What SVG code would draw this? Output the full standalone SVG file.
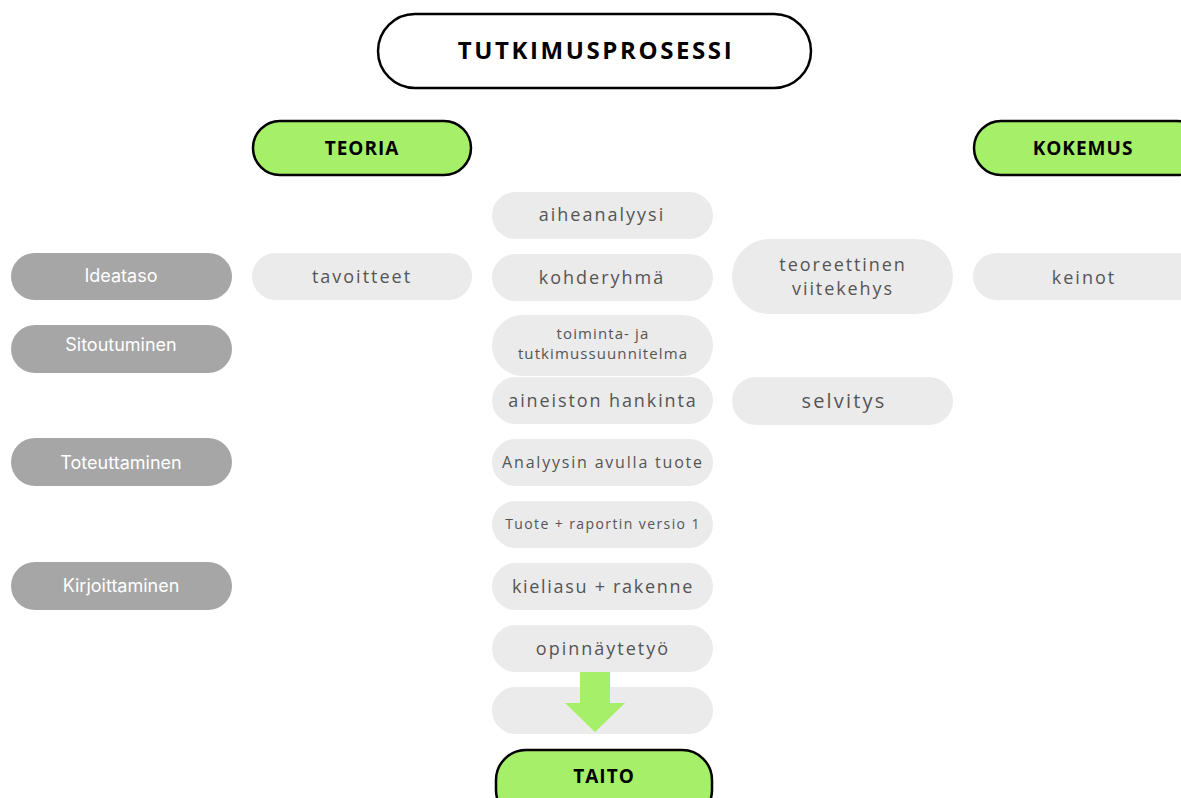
<svg xmlns="http://www.w3.org/2000/svg" width="1181" height="798" viewBox="0 0 1181 798">
<style>
.light{fill:#ebebeb}
.dark{fill:#a6a6a6}
.green{fill:#a6ef69;stroke:#000;stroke-width:2.5}
.lt{font-family:"Open Sans","DejaVu Sans",sans-serif;fill:#555;text-anchor:middle;letter-spacing:2px;font-size:18px}
.dt{font-family:Inter,"Liberation Sans",sans-serif;fill:#fff;font-size:18px;text-anchor:middle}
.gt{font-family:"Open Sans","DejaVu Sans",sans-serif;font-weight:bold;fill:#000;font-size:19px;text-anchor:middle;letter-spacing:1px}
</style>
<rect width="1181" height="798" fill="#fff"/>
<g id="title">
<rect x="378" y="14" width="433" height="74" rx="37" fill="#fff" stroke="#000" stroke-width="2.5"/>
<text x="596" y="59" class="gt" style="font-size:24px;letter-spacing:2.6px">TUTKIMUSPROSESSI</text>
</g>
<g id="teoria"><rect x="253" y="121" width="218" height="54" rx="27" class="green"/><text x="362" y="155" class="gt">TEORIA</text></g>
<g id="kokemus"><rect x="974" y="121" width="230" height="54" rx="27" class="green"/><text x="1083" y="155" class="gt">KOKEMUS</text></g>
<g id="ideataso"><rect x="11" y="253" width="221" height="47" rx="23.5" class="dark"/><text x="121" y="282" class="dt">Ideataso</text></g>
<g id="sitoutuminen"><rect x="11" y="325" width="221" height="48" rx="24" class="dark"/><text x="121" y="351" class="dt">Sitoutuminen</text></g>
<g id="toteuttaminen"><rect x="11" y="438" width="221" height="48" rx="24" class="dark"/><text x="121" y="469" class="dt">Toteuttaminen</text></g>
<g id="kirjoittaminen"><rect x="11" y="562" width="221" height="48" rx="24" class="dark"/><text x="121" y="592" class="dt">Kirjoittaminen</text></g>
<g id="tavoitteet"><rect x="252" y="253" width="220" height="47" rx="23.5" class="light"/><text x="362" y="283" class="lt">tavoitteet</text></g>
<g id="aiheanalyysi"><rect x="492" y="192" width="221" height="47" rx="23.5" class="light"/><text x="602" y="221" class="lt">aiheanalyysi</text></g>
<g id="kohderyhma"><rect x="492" y="254" width="221" height="47" rx="23.5" class="light"/><text x="602" y="284" class="lt">kohderyhmä</text></g>
<g id="suunnitelma"><rect x="492" y="315" width="221" height="61" rx="30.5" class="light"/><text x="603" y="339" class="lt" style="font-size:15px;letter-spacing:1.1px">toiminta- ja</text><text x="603" y="359" class="lt" style="font-size:15px;letter-spacing:1.1px">tutkimussuunnitelma</text></g>
<g id="hankinta"><rect x="492" y="377" width="221" height="47" rx="23.5" class="light"/><text x="603" y="407" class="lt" style="letter-spacing:1.9px">aineiston hankinta</text></g>
<g id="analyysi"><rect x="492" y="439" width="221" height="47" rx="23.5" class="light"/><text x="603" y="468" class="lt" style="font-size:16px;letter-spacing:1.8px">Analyysin avulla tuote</text></g>
<g id="versio"><rect x="492" y="501" width="221" height="47" rx="23.5" class="light"/><text x="603" y="529" class="lt" style="font-size:14px;letter-spacing:1.4px">Tuote + raportin versio 1</text></g>
<g id="kieliasu"><rect x="492" y="563" width="221" height="47" rx="23.5" class="light"/><text x="603" y="593" class="lt" style="letter-spacing:1.7px">kieliasu + rakenne</text></g>
<g id="opinnaytetyo"><rect x="492" y="625" width="221" height="47" rx="23.5" class="light"/><text x="603" y="655" class="lt">opinnäytetyö</text></g>
<g id="empty"><rect x="492" y="687" width="221" height="47" rx="23.5" class="light"/></g>
<g id="viitekehys"><rect x="732" y="239" width="221" height="75" rx="37.5" class="light"/><text x="843" y="271" class="lt" style="letter-spacing:1.9px">teoreettinen</text><text x="843" y="295" class="lt" style="letter-spacing:1.9px">viitekehys</text></g>
<g id="selvitys"><rect x="732" y="377" width="221" height="48" rx="24" class="light"/><text x="844" y="408" class="lt" style="font-size:20px;letter-spacing:2.2px">selvitys</text></g>
<g id="keinot"><rect x="973" y="253" width="230" height="47" rx="23.5" class="light"/><text x="1084" y="284" class="lt">keinot</text></g>
<g id="connectors">
<polygon points="580,672 610,672 610,703 625,703 595,732 565,703 580,703" fill="#a6ef69"/>
</g>
<g id="taito"><rect x="496" y="750" width="216" height="70" rx="30" class="green"/><text x="604" y="783" class="gt">TAITO</text></g>
</svg>
